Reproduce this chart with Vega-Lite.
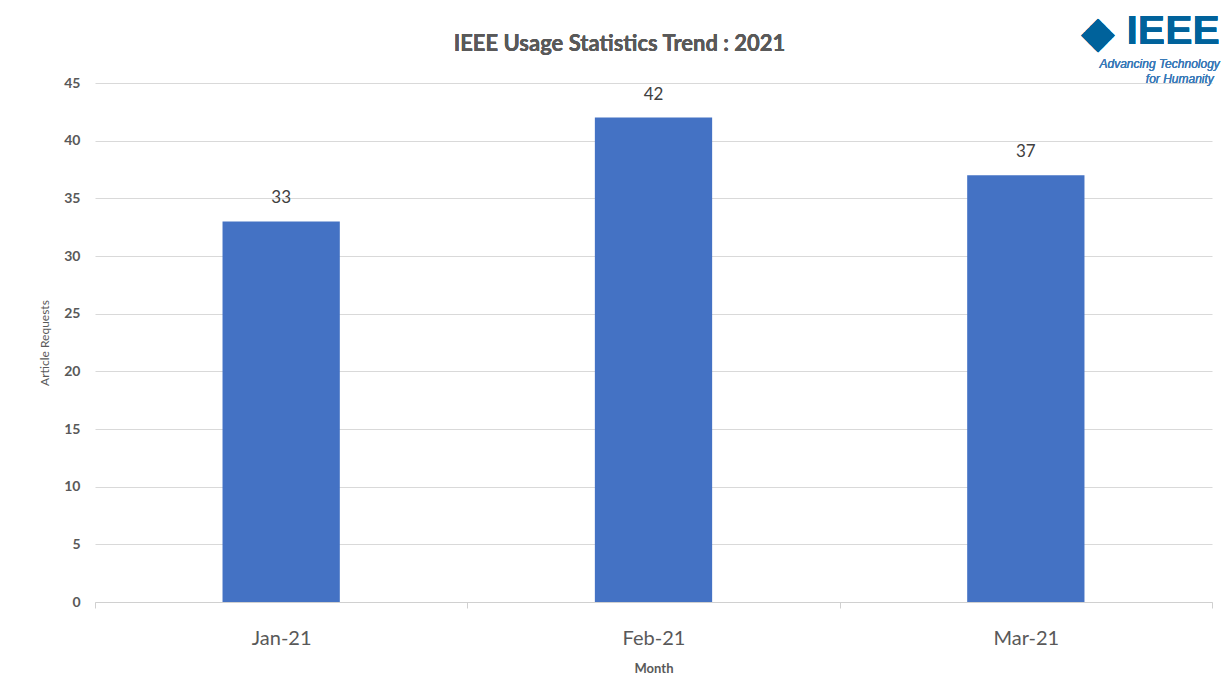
{
  "$schema": "https://vega.github.io/schema/vega-lite/v6.json",
  "width": 1117,
  "height": 519,
  "autosize": {"type": "none"},
  "padding": {"left": 95, "top": 83, "right": 14, "bottom": 93},
  "background": "white",
  "data": {
    "values": [
      {"Month": "Jan-21", "Requests": 33},
      {"Month": "Feb-21", "Requests": 42},
      {"Month": "Mar-21", "Requests": 37}
    ]
  },
  "config": {
    "view": {"stroke": null},
    "font": "Lato"
  },
  "layer": [
    {
      "mark": {"type": "bar", "color": "#4472C4", "width": {"band": 0.315}},
      "encoding": {
        "x": {
          "field": "Month",
          "type": "nominal",
          "sort": null,
          "scale": {"paddingInner": 0, "paddingOuter": 0},
          "axis": {
            "title": "Month",
            "labelAngle": 0,
            "labelFont": "Lato",
            "labelFontSize": 20,
            "labelColor": "#595959",
            "labelPadding": 20,
            "titleFont": "Lato",
            "titleFontSize": 13,
            "titleFontWeight": "bold",
            "titleColor": "#595959",
            "titlePadding": 14,
            "domainColor": "#d0d0d0",
            "tickColor": "#d0d0d0",
            "tickSize": 6,
            "tickBand": "extent",
            "grid": false
          }
        },
        "y": {
          "field": "Requests",
          "type": "quantitative",
          "scale": {"domain": [0, 45]},
          "axis": {
            "title": "Article Requests",
            "values": [0, 5, 10, 15, 20, 25, 30, 35, 40, 45],
            "labelFont": "Lato",
            "labelFontSize": 14,
            "labelFontWeight": "bold",
            "labelColor": "#595959",
            "labelPadding": 15,
            "titleFont": "Lato",
            "titleFontSize": 12,
            "titleFontWeight": "normal",
            "titleColor": "#595959",
            "titlePadding": 12,
            "domain": false,
            "ticks": false,
            "gridColor": "#d9d9d9",
            "gridWidth": 1
          }
        }
      }
    },
    {
      "mark": {"type": "text", "dy": -14, "font": "Lato", "fontSize": 17, "color": "#404040", "baseline": "bottom"},
      "encoding": {
        "x": {"field": "Month", "type": "nominal", "sort": null},
        "y": {"field": "Requests", "type": "quantitative"},
        "text": {"field": "Requests", "type": "quantitative"}
      }
    },
    {
      "mark": {"type": "text", "text": "IEEE Usage Statistics Trend : 2021", "font": "Lato", "fontSize": 22, "fontWeight": "bold", "color": "#595959", "align": "center", "baseline": "alphabetic", "dx": -34, "dy": -32},
      "encoding": {
        "x": {"datum": "Feb-21", "type": "nominal"},
        "y": {"datum": 45, "type": "quantitative"}
      }
    },
    {
      "mark": {"type": "text", "text": "◆", "font": "DejaVu Sans", "fontSize": 44, "color": "#00629B", "align": "center", "baseline": "alphabetic", "dx": 72, "dy": -36},
      "encoding": {
        "x": {"datum": "Mar-21", "type": "nominal"},
        "y": {"datum": 45, "type": "quantitative"}
      }
    },
    {
      "mark": {"type": "text", "text": "IEEE", "font": "Liberation Sans", "fontWeight": "bold", "fontSize": 41, "color": "#00629B", "align": "right", "baseline": "alphabetic", "dx": 194, "dy": -39},
      "encoding": {
        "x": {"datum": "Mar-21", "type": "nominal"},
        "y": {"datum": 45, "type": "quantitative"}
      }
    },
    {
      "mark": {"type": "text", "text": "Advancing Technology", "font": "Liberation Sans", "fontStyle": "italic", "fontSize": 12, "color": "#3A7AB8", "align": "right", "baseline": "alphabetic", "dx": 194, "dy": -15},
      "encoding": {
        "x": {"datum": "Mar-21", "type": "nominal"},
        "y": {"datum": 45, "type": "quantitative"}
      }
    },
    {
      "mark": {"type": "text", "text": "for Humanity", "font": "Liberation Sans", "fontStyle": "italic", "fontSize": 12, "color": "#3A7AB8", "align": "right", "baseline": "alphabetic", "dx": 188, "dy": 0},
      "encoding": {
        "x": {"datum": "Mar-21", "type": "nominal"},
        "y": {"datum": 45, "type": "quantitative"}
      }
    }
  ]
}
